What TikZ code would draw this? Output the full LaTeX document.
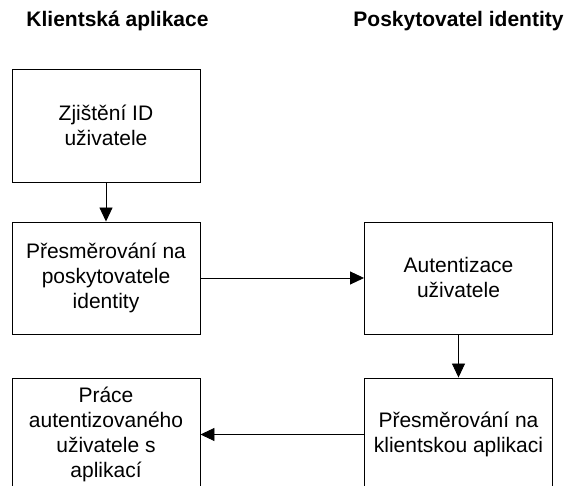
\documentclass[tikz,border=0pt]{standalone}
\usepackage{fontspec}
\setmainfont{Liberation Sans}
\usetikzlibrary{arrows.meta}
\begin{document}
\begin{tikzpicture}[x=1pt,y=1pt,
  stepbox/.style={draw=black,line width=0.9pt,minimum width=188pt,minimum height=113pt,
    inner sep=0pt,align=center,font=\fontsize{21}{25}\selectfont},
  header/.style={anchor=base,inner sep=0pt,font=\fontsize{21}{25}\selectfont\bfseries},
  flow/.style={draw=black,line width=0.9pt,-{Triangle[length=14pt,width=13pt]}}]
\useasboundingbox (0,0) rectangle (568,486);
\clip (0,0) rectangle (568,486);
% column headings
\node[header] (hclient) at (117.5,459) {Klientská aplikace};
\node[header] (hidp) at (458.5,459) {Poskytovatel identity};
% client application column
\node[stepbox] (zjisteni) at (106,360.5) {Zjištění ID\\uživatele};
\node[stepbox,minimum height=112pt] (presmer) at (106,208) {Přesměrování na\\poskytovatele\\identity};
\node[stepbox] (prace) at (106,51.5) {Práce\\autentizovaného\\uživatele s\\aplikací};
% identity provider column
\node[stepbox,minimum height=112pt] (autent) at (458.5,208) {Autentizace\\uživatele};
\node[stepbox] (navrat) at (458.5,51.5) {Přesměrování na\\klientskou aplikaci};
% flow
\draw[flow] (zjisteni.south) -- (presmer.north);
\draw[flow] (presmer.east) -- (autent.west);
\draw[flow] (autent.south) -- (navrat.north);
\draw[flow] (navrat.west) -- (prace.east);
\end{tikzpicture}
\end{document}
